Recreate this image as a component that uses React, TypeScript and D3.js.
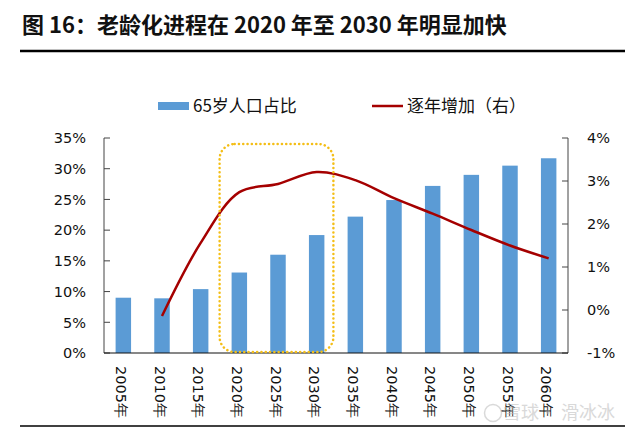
import React, { useEffect, useRef } from "react";
import * as d3 from "d3";

const categories = ["2005年", "2010年", "2015年", "2020年", "2025年", "2030年", "2035年", "2040年", "2045年", "2050年", "2055年", "2060年"];
const shareOver65 = [9.0, 8.9, 10.4, 13.1, 16.0, 19.2, 22.2, 24.9, 27.2, 29.0, 30.5, 31.7];
const annualIncrease: (number | null)[] = [null, -0.14, 1.56, 2.74, 2.93, 3.21, 3.02, 2.6, 2.24, 1.86, 1.5, 1.2];
const leftTicks = [0, 5, 10, 15, 20, 25, 30, 35];
const rightTicks = [-1, 0, 1, 2, 3, 4];
const title = "图 16：老龄化进程在 2020 年至 2030 年明显加快";
const legendBar = "65岁人口占比";
const legendLine = "逐年增加（右）";

const W = 635, H = 433;
const M = { left: 104, right: 568, top: 138, bottom: 353 };
const TICK_FONT = "'DejaVu Sans', Verdana, sans-serif";
const CJK_FONT = "'Noto Sans CJK SC', sans-serif";

export default function App() {
  const ref = useRef<SVGSVGElement | null>(null);
  useEffect(() => {
    const svg = d3.select(ref.current);
    svg.selectAll("*").remove();

    const x = d3.scaleBand<string>().domain(categories).range([M.left, M.right]).paddingInner(0.6).paddingOuter(0.3);
    const xc = (c: string) => (x(c) as number) + x.bandwidth() / 2;
    const y = d3.scaleLinear().domain([0, 35]).range([M.bottom, M.top]);
    const y2 = d3.scaleLinear().domain([-1, 4]).range([M.bottom, M.top]);

    // title
    svg.append("text").attr("x", 22).attr("y", 33).attr("font-family", CJK_FONT).attr("font-weight", 700)
      .attr("font-size", 22).attr("fill", "#111").text(title);
    svg.append("line").attr("x1", 20).attr("x2", 625).attr("y1", 51).attr("y2", 51).attr("stroke", "#000").attr("stroke-width", 2.5);
    svg.append("line").attr("x1", 20).attr("x2", 625).attr("y1", 426).attr("y2", 426).attr("stroke", "#000").attr("stroke-width", 1.5);

    // legend
    svg.append("rect").attr("x", 158).attr("y", 102).attr("width", 31).attr("height", 8).attr("fill", "#5B9BD5");
    svg.append("text").attr("x", 193).attr("y", 106).attr("dy", "0.36em").attr("font-family", CJK_FONT)
      .attr("font-size", 17).attr("fill", "#111").text(legendBar);
    svg.append("line").attr("x1", 372).attr("x2", 403).attr("y1", 106).attr("y2", 106).attr("stroke", "#A50000").attr("stroke-width", 2.5);
    svg.append("text").attr("x", 407).attr("y", 106).attr("dy", "0.36em").attr("font-family", CJK_FONT)
      .attr("font-size", 17).attr("fill", "#111").text(legendLine);

    // bars
    svg.append("g").selectAll("rect").data(shareOver65).join("rect")
      .attr("x", (_d, i) => x(categories[i]) as number)
      .attr("width", x.bandwidth())
      .attr("y", (d) => y(d))
      .attr("height", (d) => y(0) - y(d))
      .attr("fill", "#5B9BD5");

    // left axis
    const gl = svg.append("g").attr("transform", `translate(${M.left},0)`);
    gl.append("line").attr("y1", M.top).attr("y2", M.bottom).attr("stroke", "#444").attr("stroke-width", 1);
    leftTicks.forEach((t) => {
      gl.append("line").attr("x1", 0).attr("x2", 6).attr("y1", y(t)).attr("y2", y(t)).attr("stroke", "#444");
      gl.append("text").attr("x", -18).attr("y", y(t)).attr("dy", "0.36em").attr("text-anchor", "end")
        .attr("font-family", TICK_FONT).attr("font-size", 14.5).attr("fill", "#111").text(`${t}%`);
    });

    // right axis
    const gr = svg.append("g").attr("transform", `translate(${M.right},0)`);
    gr.append("line").attr("y1", M.top).attr("y2", M.bottom).attr("stroke", "#444");
    rightTicks.forEach((t) => {
      gr.append("line").attr("x1", -6).attr("x2", 0).attr("y1", y2(t)).attr("y2", y2(t)).attr("stroke", "#444");
      gr.append("text").attr("x", 19).attr("y", y2(t)).attr("dy", "0.36em").attr("text-anchor", "start")
        .attr("font-family", TICK_FONT).attr("font-size", 14.5).attr("fill", "#111").text(`${t}%`);
    });

    // x axis
    svg.append("line").attr("x1", M.left).attr("x2", M.right).attr("y1", M.bottom).attr("y2", M.bottom).attr("stroke", "#111").attr("stroke-width", 1.2);
    categories.forEach((c) => {
      svg.append("text").attr("transform", `translate(${xc(c) - 2},${366}) rotate(90)`).attr("dy", "0.36em")
        .attr("font-family", TICK_FONT).attr("font-size", 14.5).attr("fill", "#111").text(c);
    });

    // line
    const pts = annualIncrease.map((v, i) => ({ c: categories[i], v })).filter((p) => p.v !== null) as { c: string; v: number }[];
    const line = d3.line<{ c: string; v: number }>().x((p) => xc(p.c)).y((p) => y2(p.v)).curve(d3.curveCatmullRom.alpha(0.5));
    svg.append("path").attr("d", line(pts)).attr("fill", "none").attr("stroke", "#A50000").attr("stroke-width", 2.5);

    // highlight box 2020-2030
    const bx0 = (x("2020年") as number) - 12;
    const bx1 = (x("2030年") as number) + x.bandwidth() + 9;
    svg.append("rect").attr("x", bx0).attr("y", 144).attr("width", bx1 - bx0).attr("height", y(0) - 1 - 144)
      .attr("rx", 15).attr("ry", 15).attr("fill", "none").attr("stroke", "#F4BE16").attr("stroke-width", 2.5)
      .attr("stroke-dasharray", "0.1 4.2").attr("stroke-linecap", "round");

    // watermark
    const wm = svg.append("g").attr("opacity", 0.55);
    wm.append("circle").attr("cx", 493).attr("cy", 413).attr("r", 8.5).attr("fill", "none").attr("stroke", "#bbb").attr("stroke-width", 1.5);
    wm.append("text").attr("x", 503).attr("y", 413).attr("dy", "0.36em").attr("font-family", CJK_FONT).attr("font-size", 18).attr("fill", "#bbb").text("雪球· 滑冰冰");
  }, []);

  return (
    <svg ref={ref} width={W} height={H} style={{ position: "absolute", left: 0, top: 0, background: "#fff" }} />
  );
}
